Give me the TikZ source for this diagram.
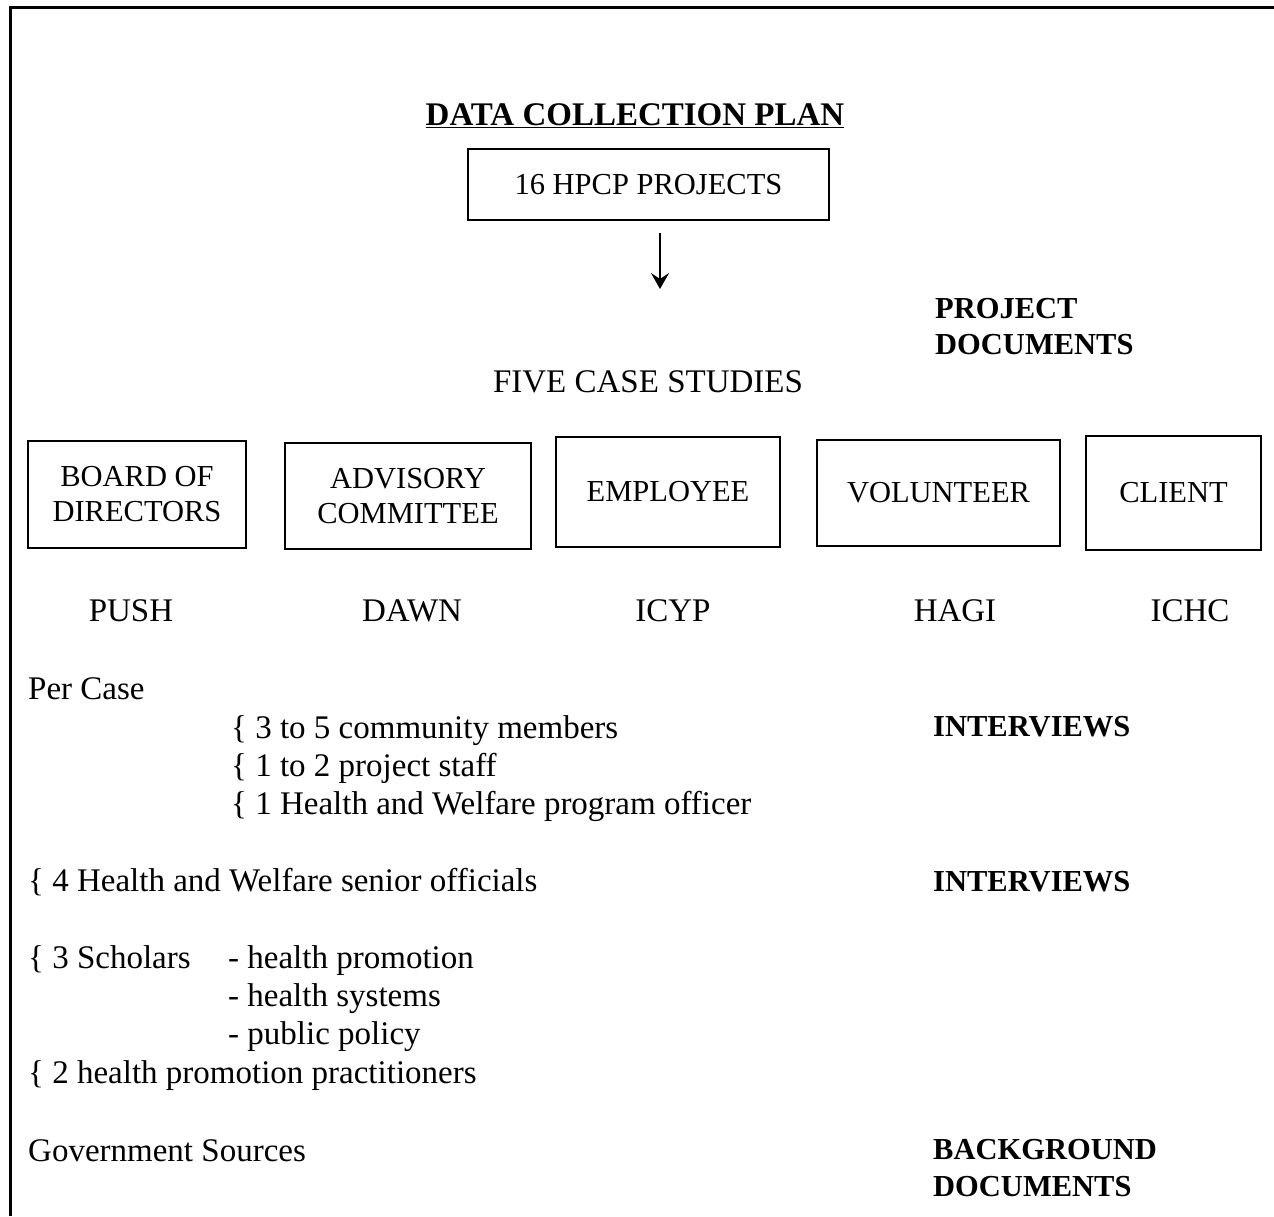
\documentclass[tikz,border=0pt]{standalone}
\usepackage{fontspec}
\setmainfont{Liberation Serif}
\usetikzlibrary{arrows.meta}
\begin{document}
\begin{tikzpicture}[x=1pt,y=-1pt,
  txt/.style={inner sep=0pt,anchor=base west,font=\fontsize{33}{38}\selectfont},
  ctxt/.style={inner sep=0pt,anchor=base,font=\fontsize{33}{38}\selectfont},
  lbl/.style={inner sep=0pt,anchor=base west,align=left,font=\fontsize{30.5}{36.5}\selectfont\bfseries},
  boxn/.style={draw,line width=2.5pt,align=center,inner sep=0pt,font=\fontsize{30.5}{35}\selectfont},
  arr/.style={line width=2.5pt,-{Stealth[length=16pt,width=18pt,inset=6pt]}}]
\useasboundingbox (0,0) rectangle (1274,1216);
\draw[line width=3pt] (10,1216) -- (10,7) -- (1274,7);
% title
\node[ctxt,font=\fontsize{33}{38}\selectfont\bfseries] (title) at (635,125) {\underline{DATA COLLECTION PLAN}};
\node[boxn,minimum width=361pt,minimum height=71pt] (hpcp) at (648.5,184.5) {16 HPCP PROJECTS};
\coordinate (a1) at (660,233);
\coordinate (a2) at (660,289);
\draw[arr] (a1) -- (a2);
\node[lbl] (pd) at (935,318) {PROJECT};
\node[lbl] (pd2) at (935,354) {DOCUMENTS};
\node[ctxt] (five) at (648,392) {FIVE CASE STUDIES};
% boxes
\node[boxn,minimum width=218pt,minimum height=107pt] (board) at (137,494.5) {BOARD OF\\DIRECTORS};
\node[boxn,minimum width=246pt,minimum height=106pt] (adv) at (408,496) {ADVISORY\\COMMITTEE};
\node[boxn,minimum width=224pt,minimum height=110pt] (emp) at (668,492) {EMPLOYEE};
\node[boxn,minimum width=243pt,minimum height=106pt] (vol) at (938.5,493) {VOLUNTEER};
\node[boxn,minimum width=175pt,minimum height=114pt] (cli) at (1173.5,493) {CLIENT};
% case names
\node[ctxt] (push) at (131,621) {PUSH};
\node[ctxt] (dawn) at (412,621) {DAWN};
\node[ctxt] (icyp) at (673,621) {ICYP};
\node[ctxt] (hagi) at (955,621) {HAGI};
\node[ctxt] (ichc) at (1190,621) {ICHC};
% per case
\node[txt] (per) at (28,699) {Per Case};
\node[txt] (i1) at (231,738) {\{ 3 to 5 community members};
\node[txt] (i2) at (231,776) {\{ 1 to 2 project staff};
\node[txt] (i3) at (231,814) {\{ 1 Health and Welfare program officer};
\node[lbl] (int1) at (933,736) {INTERVIEWS};
\node[txt] (s1) at (28,891) {\{ 4 Health and Welfare senior officials};
\node[lbl] (int2) at (933,891) {INTERVIEWS};
\node[txt] (sch) at (28,968) {\{ 3 Scholars};
\node[txt] (h1) at (228,968) {- health promotion};
\node[txt] (h2) at (228,1006) {- health systems};
\node[txt] (h3) at (228,1044) {- public policy};
\node[txt] (pr) at (28,1083) {\{ 2 health promotion practitioners};
\node[txt] (gov) at (28,1161) {Government Sources};
\node[lbl] (bg) at (933,1159) {BACKGROUND};
\node[lbl] (bg2) at (933,1196) {DOCUMENTS};
\end{tikzpicture}
\end{document}
